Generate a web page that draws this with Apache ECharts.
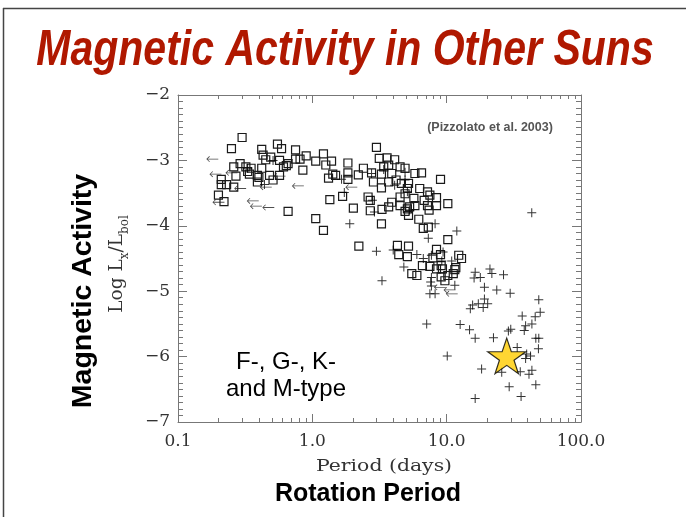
<!DOCTYPE html>
<html><head><meta charset="utf-8">
<script src="https://cdn.jsdelivr.net/npm/echarts@6/dist/echarts.min.js"></script>
<style>html,body{margin:0;padding:0;background:#fff;}#c{width:686px;height:517px;}</style>
</head><body><div id="c"></div>
<script>
// ---- data (Period in days, Log Lx/Lbol) ----
const squaresP = [0.30,0.25,0.42,0.55,0.59,0.75,0.43,0.49,0.90,0.81,0.75,0.57,1.21,1.06,1.39,1.26,1.84,3.0,3.15,3.6,4.1,
  0.26,0.29,0.32,0.35,0.27,0.21,0.21,0.23,0.26,0.20,0.22,0.33,0.34,0.39,0.40,0.42,0.39,0.48,0.51,0.57,0.61,0.64,0.66,0.85,
  1.42,1.49,1.32,1.84,1.84,1.68,1.35,2.02,0.66,1.06,1.21,3.27,2.22,2.2,2.4,2.76,2.85,0.45,
  3.7,3.9,3.4,3.27,4.5,4.9,5.8,6.5,3.27,3.7,4.2,4.6,5.2,5.1,4.9,9.0,6.3,7.2,7.5,8.4,6.8,7.2,7.4,8.4,10.2,
  2.6,2.7,2.7,3.3,3.7,3.9,4.5,4.5,5.3,5.7,5.8,4.9,5.1,5.2,6.2,6.7,7.3,10.2,4.3,5.2,4.4,5.1,8.4,9.0,6.6,7.9,7.5,8.4,9.3,
  12.3,12.9,11.7,9.1,10.2,9.7,5.5,6.0,9.1,11.2,11.5];
const squaresL = [-2.65,-2.82,-2.83,-2.75,-2.82,-2.84,-2.92,-2.95,-2.93,-2.98,-2.98,-3.00,-2.90,-3.01,-3.01,-3.07,-3.04,-2.80,-2.97,-2.96,-2.99,
  -3.10,-3.05,-3.10,-3.12,-3.24,-3.29,-3.37,-3.37,-3.41,-3.53,-3.63,-3.17,-3.21,-3.23,-3.26,-3.12,-3.33,-3.23,-3.30,-3.23,-3.10,-3.08,-3.05,-3.15,
  -3.21,-3.23,-3.27,-3.19,-3.29,-3.55,-3.60,-3.73,-3.78,-3.89,-4.07,-3.97,-4.31,-3.22,-3.12,-3.19,-3.33,-2.99,
  -3.07,-3.20,-3.10,-3.21,-3.10,-3.12,-3.20,-3.19,-3.42,-3.33,-3.30,-3.35,-3.35,-3.43,-3.51,-3.29,-3.43,-3.48,-3.53,-3.57,-3.61,-3.69,-3.76,-3.69,-3.66,
  -3.56,-3.61,-3.77,-3.75,-3.71,-3.64,-3.56,-3.69,-3.71,-3.58,-3.69,-3.78,-3.74,-3.84,-3.90,-4.04,-4.02,-4.21,-4.30,-4.31,-4.44,-4.47,-4.36,-4.44,-4.61,-4.49,-4.62,-4.66,-4.66,
  -4.45,-4.50,-4.64,-4.78,-4.76,-4.84,-4.73,-4.76,-4.61,-4.73,-4.67];

const crossesP = [0.44,0.51,0.33,1.73,1.9,3.0,4.0,4.8,7.3,8.2,11.9,3.3,6.0,7.6,7.7,7.5,8.2,11.5,16.3,16.0,17.8,15.6,17.2,21,21.7,26.5,
  19.1,23.6,29.7,15.0,18.7,20.2,19.1,48.5,49.7,45.6,36.5,38.7,43.1,37.8,30,28.8,7.1,12.6,14.8,16.3,22.3,46.1,48.5,48.2,33.5,10.1,
  39.4,42.1,38.7,18.2,25.7,35.3,41,43.1,29.2,46.1,35.8,16.3,7.7,4.9,2.8,3.4,4.9,4.1,2.76,1.65,5.1,5.3,2.9,6.7,7.7,9.2,10.9,9.4,43];
const crossesL = [-3.37,-3.00,-3.12,-3.49,-3.97,-4.39,-4.37,-4.63,-4.19,-3.97,-4.08,-4.84,-4.44,-4.86,-4.92,-5.04,-5.04,-4.91,-4.71,-4.80,-4.79,-5.21,-5.19,-4.66,-4.73,-4.75,
  -4.94,-4.98,-5.03,-5.27,-5.25,-5.19,-5.12,-5.13,-5.32,-5.39,-5.38,-5.53,-5.50,-5.60,-5.58,-5.61,-5.50,-5.51,-5.59,-5.72,-5.71,-5.72,-5.72,-5.88,-5.86,-5.99,
  -5.96,-5.99,-6.03,-6.19,-6.24,-6.23,-6.27,-6.21,-6.46,-6.43,-6.61,-6.64,-4.79,-3.30,-3.61,-3.14,-3.18,-3.38,-3.20,-3.29,-3.48,-3.76,-3.79,-4.50,-4.45,-4.54,-4.54,-4.40,-3.80];

const arrowsP = [0.18,0.19,0.25,0.20,0.36,0.38,0.47,0.29,0.78,0.45,1.95,0.57,10.9,8.9,10.5];
const arrowsL = [-2.98,-3.21,-3.19,-3.64,-3.62,-3.70,-3.72,-3.43,-3.39,-3.41,-3.41,-3.24,-5.04,-4.94,-4.98];

const sunP = [28];
const sunL = [-5.99];

const xTickLabels = ['0.1', '1.0', '10.0', '100.0'];
const xMinorTicks = [0.2,0.3,0.4,0.5,0.6,0.7,0.8,0.9,2,3,4,5,6,7,8,9,20,30,40,50,60,70,80,90];
const yTickLabels = {'-7':'\u22127','-6':'\u22126','-5':'\u22125','-4':'\u22124','-3':'\u22123','-2':'\u22122'};

const pts = (P, L) => P.map((p, i) => [p, L[i]]);

const AX = '#777';
const SERIF = '"DejaVu Serif", "Liberation Serif", serif';
const SANS = '"Liberation Sans", Arial, Helvetica, sans-serif';

const xBase = {type: 'log', logBase: 10, min: 0.1, max: 100, splitLine: {show: false}};
const yBase = {type: 'value', min: -7, max: -2, interval: 1, splitLine: {show: false}};

const chart = echarts.init(document.getElementById('c'), null, {renderer: 'canvas'});
chart.setOption({
  animation: false,
  backgroundColor: '#fff',
  grid: {left: 178, right: 105, top: 95, bottom: 95},
  xAxis: [
    Object.assign({}, xBase, {position: 'bottom',
      axisLine: {show: true, lineStyle: {color: AX, width: 1}},
      axisTick: {show: true, inside: true, length: 8, lineStyle: {color: AX}},
      axisLabel: {show: true, margin: 11, color: '#333', fontFamily: SERIF, fontSize: 17,
        formatter: v => xTickLabels[Math.round(Math.log10(v)) + 1]}}),
    Object.assign({}, xBase, {position: 'bottom',
      axisLine: {show: false},
      axisTick: {show: true, inside: true, length: 4, customValues: xMinorTicks, lineStyle: {color: AX}},
      axisLabel: {show: false}}),
    Object.assign({}, xBase, {position: 'top',
      axisLine: {show: true, lineStyle: {color: AX, width: 1}},
      axisTick: {show: true, inside: true, length: 8, lineStyle: {color: AX}},
      axisLabel: {show: false}}),
    Object.assign({}, xBase, {position: 'top',
      axisLine: {show: false},
      axisTick: {show: true, inside: true, length: 4, customValues: xMinorTicks, lineStyle: {color: AX}},
      axisLabel: {show: false}})
  ],
  yAxis: [
    Object.assign({}, yBase, {position: 'left',
      axisLine: {show: true, lineStyle: {color: AX, width: 1}},
      axisTick: {show: true, inside: true, length: 9, lineStyle: {color: AX}},
      minorTick: {show: true, splitNumber: 10, length: 5, lineStyle: {color: AX}},
      axisLabel: {show: true, margin: 8, color: '#333', fontFamily: SERIF, fontSize: 17,
        formatter: v => yTickLabels[String(v)]}}),
    Object.assign({}, yBase, {position: 'right',
      axisLine: {show: true, lineStyle: {color: AX, width: 1}},
      axisTick: {show: true, inside: true, length: 9, lineStyle: {color: AX}},
      minorTick: {show: true, splitNumber: 10, length: 5, lineStyle: {color: AX}},
      axisLabel: {show: false}})
  ],
  series: [
    {type: 'scatter', name: 'squares', data: pts(squaresP, squaresL), symbol: 'rect', symbolSize: 8,
      itemStyle: {color: 'rgba(255,255,255,0)', borderColor: '#1a1a1a', borderWidth: 1.2, opacity: 1}},
    {type: 'scatter', name: 'crosses', data: pts(crossesP, crossesL),
      symbol: 'path://M4,0H5V4H9V5H5V9H4V5H0V4H4Z', symbolSize: 9,
      itemStyle: {color: '#000'}},
    {type: 'scatter', name: 'limits', data: pts(arrowsP, arrowsL),
      symbol: 'path://M0,3L3,0L3.6,0.6L1.4,2.6H12V3.4H1.4L3.6,5.4L3,6Z', symbolSize: [12, 6],
      itemStyle: {color: '#222'}},
    {type: 'scatter', name: 'Sun', data: pts(sunP, sunL), z: 10,
      symbol: 'path://M50,0L61.8,35.1L98.9,35.1L68.8,56.8L80.2,91.9L50,70.2L19.8,91.9L31.2,56.8L1.1,35.1L38.2,35.1Z',
      symbolKeepAspect: true, symbolSize: 38,
      itemStyle: {color: '#ffcc00', borderColor: '#000', borderWidth: 1.2}}
  ],
  graphic: [
    {type: 'line', shape: {x1: 3, y1: 8.5, x2: 686, y2: 8.5}, style: {stroke: '#444', lineWidth: 1.5}},
    {type: 'line', shape: {x1: 3.5, y1: 8, x2: 3.5, y2: 517}, style: {stroke: '#444', lineWidth: 1.5}},
    {type: 'text', x: 345, y: 51, scaleX: 0.82,
      style: {text: 'Magnetic Activity in Other Suns', font: 'italic bold 50px ' + SANS, fill: '#b01800',
        align: 'center', verticalAlign: 'middle', textAlign: 'center', textVerticalAlign: 'middle'}},
    {type: 'text', x: 490, y: 128,
      style: {text: '(Pizzolato et al. 2003)', font: 'bold 12.5px ' + SANS, fill: '#555',
        align: 'center', verticalAlign: 'middle', textAlign: 'center', textVerticalAlign: 'middle'}},
    {type: 'text', x: 286, y: 376,
      style: {text: 'F-, G-, K-\nand M-type', font: '24px ' + SANS, lineHeight: 27, fill: '#000',
        align: 'center', verticalAlign: 'middle', textAlign: 'center', textVerticalAlign: 'middle'}},
    {type: 'text', x: 83, y: 291, rotation: Math.PI / 2,
      style: {text: 'Magnetic Activity', font: 'bold 28.5px ' + SANS, fill: '#000',
        align: 'center', verticalAlign: 'middle', textAlign: 'center', textVerticalAlign: 'middle'}},
    {type: 'text', x: 368, y: 494,
      style: {text: 'Rotation Period', font: 'bold 25px ' + SANS, fill: '#000',
        align: 'center', verticalAlign: 'middle', textAlign: 'center', textVerticalAlign: 'middle'}},
    {type: 'text', x: 384, y: 467, scaleX: 1.2,
      style: {text: 'Period (days)', font: '17px ' + SERIF, fill: '#333',
        align: 'center', verticalAlign: 'middle', textAlign: 'center', textVerticalAlign: 'middle'}},
    {type: 'text', x: 119, y: 264, rotation: Math.PI / 2,
      style: {text: '{m|Log L}{s|x}{m|/L}{s|bol}', fill: '#333',
        align: 'center', verticalAlign: 'middle', textAlign: 'center', textVerticalAlign: 'middle',
        rich: {
          m: {fontFamily: 'DejaVu Serif', fontSize: 18.5, fill: '#333', verticalAlign: 'bottom', padding: [0, 0, 4, 0]},
          s: {fontFamily: 'DejaVu Serif', fontSize: 12, fill: '#333', verticalAlign: 'bottom'}
        }}}
  ]
});
</script></body></html>
